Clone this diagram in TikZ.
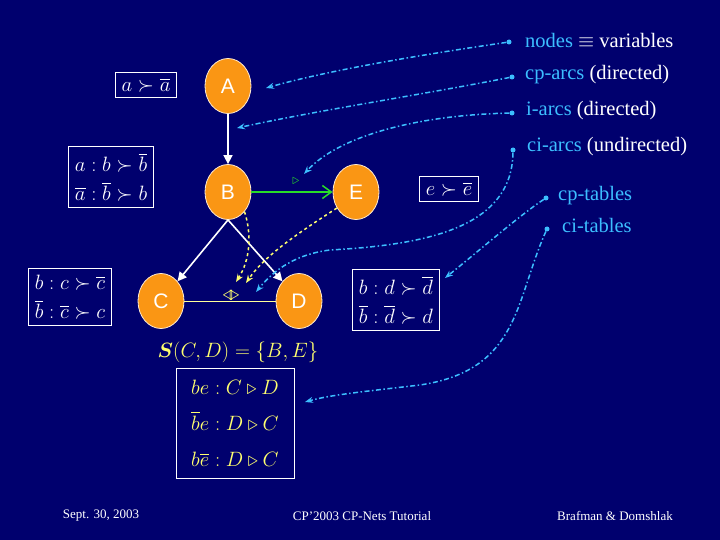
\documentclass[tikz,border=0pt]{standalone}
\usepackage{fontspec}
\setmainfont{Liberation Serif}
\newfontfamily\nodefont{Liberation Sans}
\usepackage{amsmath,amssymb}
\usetikzlibrary{arrows.meta,shapes.geometric}
\definecolor{bgnavy}{RGB}{0,0,110}
\definecolor{vorange}{RGB}{250,150,20}
\definecolor{lcyan}{RGB}{60,190,255}
\definecolor{lyellow}{RGB}{255,255,110}
\definecolor{lgreen}{RGB}{40,220,40}
\begin{document}
\begin{tikzpicture}[x=1pt,y=-1pt,
  var/.style={ellipse,fill=vorange,draw=white!80!vorange,line width=0.8pt,minimum width=46pt,minimum height=55pt,inner sep=0pt,text=white,font=\nodefont\fontsize{21}{24}\selectfont},
  tbl/.style={draw=white,line width=1pt,text=white,font=\fontsize{21}{24}\selectfont,align=left,inner sep=6pt},
  legend/.style={text=lcyan,anchor=west,font=\fontsize{20.5}{23}\selectfont,inner sep=1pt},
  dotn/.style={circle,fill=lcyan,minimum size=5pt,inner sep=0pt},
  cy/.style={lcyan,line width=1.5pt,dash pattern=on 5pt off 2.5pt on 1.5pt off 2.5pt,-{Stealth[length=8pt,width=6pt]}},
  yd/.style={lyellow,line width=1.5pt,dashed,-{Stealth[length=8pt,width=6pt]}},
  wa/.style={white,line width=1.6pt,-{Triangle[length=9pt,width=9pt]}},
  foot/.style={text=white,font=\fontsize{13}{15}\selectfont}]
\fill[bgnavy] (0,0) rectangle (720,540);
\useasboundingbox (0,0) rectangle (720,540);
% variables
\node[var] (A) at (228,86) {A};
\node[var] (B) at (228,192) {B};
\node[var] (E) at (356,192) {E};
\node[var] (C) at (161,301) {C};
\node[var] (D) at (299,301) {D};
% arcs
\draw[wa] (A) -- (B);
\draw[wa] (B.south) -- (C.north east);
\draw[wa] (B.south) -- (D.north west);
\draw[lgreen,line width=1.5pt,-{Straight Barb[length=9pt,width=13pt]}] (B) -- (E);
\draw[lyellow!70!white,line width=1pt] (C) -- (D);
\node[text=lgreen,font=\Large] (gl) at (296,181) {$\triangleright$};
\node[text=lyellow,font=\huge,inner sep=0pt] (yl) at (231,296) {$\triangleleft\!\triangleright$};
\coordinate (y1) at (236,282);
\coordinate (y2) at (246,283);
\draw[yd] (B.-50) .. controls (252,235) and (250,260) .. (y1);
\draw[yd] (E.-140) .. controls (300,232) and (265,255) .. (y2);
% tables
\node[tbl] (ta) at (146,85) {$a\succ\overline{a}$};
\node[tbl] (tb) at (111,177) {$a:b\succ\overline{b}$\\[5pt]$\overline{a}:\overline{b}\succ b$};
\node[tbl] (tc) at (70,297) {$b:c\succ\overline{c}$\\[5pt]$\overline{b}:\overline{c}\succ c$};
\node[tbl] (te) at (449,189) {$e\succ\overline{e}$};
\node[tbl] (td) at (396,300) {$b:d\succ\overline{d}$\\[5pt]$\overline{b}:\overline{d}\succ d$};
\node[text=lyellow,font=\fontsize{21}{24}\selectfont] (sl) at (238,352) {$\boldsymbol{S}(C,D)=\{B,E\}$};
\node[draw=white,line width=1pt,text=lyellow,font=\fontsize{21}{24}\selectfont,minimum width=118pt,minimum height=110pt,align=left] (ts) at (235,423)
 {$be:C\triangleright D$\\[12pt]$\overline{b}e:D\triangleright C$\\[12pt]$b\overline{e}:D\triangleright C$};
% legend
\node[dotn] (d1) at (509,42) {};
\node[dotn] (d2) at (512,77) {};
\node[dotn] (d3) at (512,113) {};
\node[dotn] (d4) at (513,150) {};
\node[dotn] (d5) at (546,198) {};
\node[dotn] (d6) at (547,229) {};
\node[legend] (l1) at (524,40) {nodes \textcolor{white}{$\equiv$ variables}};
\node[legend] (l2) at (524,75) {cp-arcs \textcolor{white}{(directed)}};
\node[legend] (l3) at (525,111) {i-arcs \textcolor{white}{(directed)}};
\node[legend] (l4) at (526,147) {ci-arcs \textcolor{white}{(undirected)}};
\node[legend] (l5) at (557,196) {cp-tables};
\node[legend] (l6) at (561,225) {ci-tables};
\coordinate (p1) at (266,88);
\coordinate (p2) at (237,128);
\coordinate (p3) at (304,174);
\coordinate (p4) at (256,292);
\coordinate (p5) at (445,278);
\coordinate (p6) at (305,402);
\draw[cy] (d1) .. controls (420,55) and (330,70) .. (p1);
\draw[cy] (d2) .. controls (420,95) and (320,110) .. (p2);
\draw[cy] (d3) .. controls (420,115) and (340,135) .. (p3);
\draw[cy] (d4) .. controls (512,230) and (420,245) .. (330,250) .. controls (290,255) and (270,275) .. (p4);
\draw[cy] (d5) .. controls (520,215) and (480,250) .. (p5);
\draw[cy] (d6) .. controls (515,300) and (520,370) .. (420,385) .. controls (360,392) and (330,395) .. (p6);
% footer
\node[foot] (f1) at (101,516) {Sept. 30, 2003};
\node[foot] (f2) at (362,516) {CP'2003 CP-Nets Tutorial};
\node[foot] (f3) at (615,516) {Brafman \& Domshlak};
\end{tikzpicture}
\end{document}
